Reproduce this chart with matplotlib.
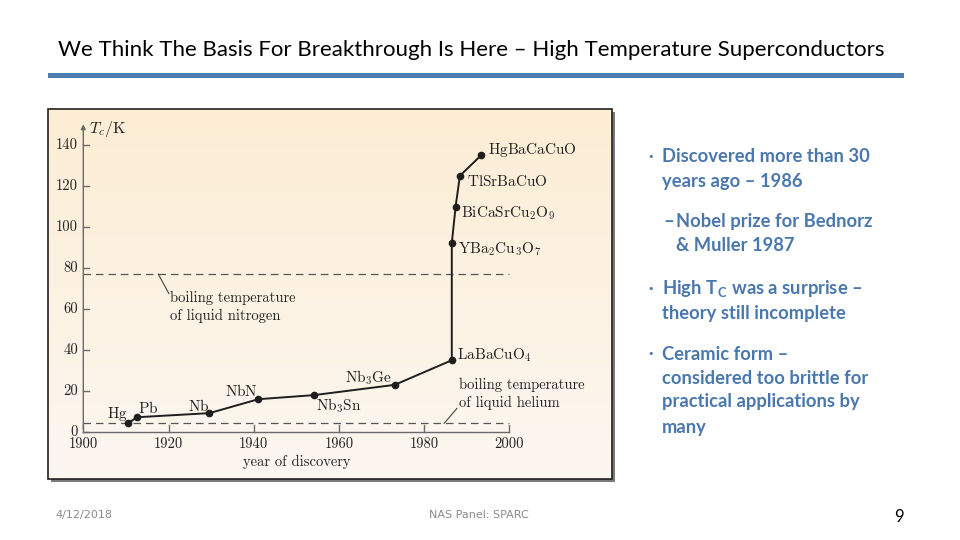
import matplotlib
matplotlib.use("Agg")
import matplotlib.pyplot as plt
import numpy as np
from matplotlib.patches import Rectangle
from matplotlib.colors import LinearSegmentedColormap

plt.rcParams['mathtext.fontset'] = 'cm'

# ---------------- data ----------------
materials = [r'$\mathrm{Hg}$', r'$\mathrm{Pb}$', r'$\mathrm{Nb}$', r'$\mathrm{NbN}$',
             r'$\mathrm{Nb_3Sn}$', r'$\mathrm{Nb_3Ge}$', r'$\mathrm{LaBaCuO_4}$',
             r'$\mathrm{YBa_2Cu_3O_7}$', r'$\mathrm{BiCaSrCu_2O_9}$',
             r'$\mathrm{TlSrBaCuO}$', r'$\mathrm{HgBaCaCuO}$']
years = [1910.5, 1912.6, 1929.6, 1941.1, 1954.2, 1973.1, 1986.5, 1986.5, 1987.4, 1988.4, 1993.4]
tc = [4.2, 7.2, 9.2, 16, 18, 23, 35, 92, 110, 125, 135]
nitrogen_bp = 77
helium_bp = 4.2
x_ticks = [1900, 1920, 1940, 1960, 1980, 2000]
y_ticks = [0, 20, 40, 60, 80, 100, 120, 140]

title = "We Think The Basis For Breakthrough Is Here \u2013 High Temperature Superconductors"
bullets = [
    ("\u2022", ["Discovered more than 30", "years ago \u2013 1986"]),
    ("\u2013", ["Nobel prize for Bednorz", "& Muller 1987"]),
    ("\u2022", ["High T$_\\mathregular{C}$ was a surprise \u2013", "theory still incomplete"]),
    ("\u2022", ["Ceramic form \u2013", "considered too brittle for", "practical applications by", "many"]),
]
footer_date = "4/12/2018"
footer_mid = "NAS Panel: SPARC"
page_no = "9"

# label offsets in pixels (presentation)
lab_off = [(-11, 9, 'center'), (11, 9, 'center'), (-11, 7, 'center'), (-17, 8, 'center'),
           (25, -11, 'center'), (-26, 7, 'center'), (5, 5, 'left'), (6, -6, 'left'),
           (5, -7, 'left'), (7, -6, 'left'), (7, 5, 'left')]

W, H = 960, 540
fig = plt.figure(figsize=(9.6, 5.4), dpi=100)
fig.patch.set_facecolor('white')

def fx(x): return x / W
def fy(y): return 1 - y / H

# title + rule
fig.text(fx(471), fy(50), title, ha='center', va='center', fontsize=16.0,
         family='Lato', color='black')
fig.add_artist(Rectangle((fx(48), fy(78)), fx(904) - fx(48), 5 / H,
                         transform=fig.transFigure, color='#4F7DB3', lw=0))

# panel
px0, px1, py0, py1 = 48, 612, 109, 479
fig.add_artist(Rectangle((fx(px0 + 3), fy(py1 + 3)), fx(px1) - fx(px0), (py1 - py0) / H,
                         transform=fig.transFigure, color='#7a7a7a', lw=0, zorder=0.5))
ax = fig.add_axes([fx(px0), fy(py1), fx(px1) - fx(px0), (py1 - py0) / H])
ax.set_zorder(1)
x0px, x1px = 83.3, 509.3
ppy = (x1px - x0px) / 100.0
y0px, ppk = 432.0, 2.05
ax.set_xlim(1900 + (px0 - x0px) / ppy, 1900 + (px1 - x0px) / ppy)
ax.set_ylim((y0px - py1) / ppk, (y0px - py0) / ppk)
ax.axis('off')
grad = np.linspace(0, 1, 256).reshape(-1, 1)
cmap = LinearSegmentedColormap.from_list('bg', ['#FCEDD4', '#FDF7F1'])
xl, yl = ax.get_xlim(), ax.get_ylim()
ax.imshow(grad, extent=[xl[0], xl[1], yl[0], yl[1]], origin='upper', aspect='auto', cmap=cmap, zorder=0)
ax.set_xlim(xl); ax.set_ylim(yl)
fig.add_artist(Rectangle((fx(px0), fy(py1)), fx(px1) - fx(px0), (py1 - py0) / H,
                         transform=fig.transFigure, fill=False, ec='#222222', lw=1.2, zorder=3))

axcol = '#6a6a6a'
txtcol = '#222222'
ax.annotate('', xy=(1900, 151.5), xytext=(1900, 0),
            arrowprops=dict(arrowstyle='-|>', color=axcol, lw=1.0, mutation_scale=7))
ax.plot([1900, 2000], [0, 0], color=axcol, lw=1.0)
tk = 7 / ppk
for t in y_ticks:
    ax.plot([1900, 1900 + 6 / ppy], [t, t], color=axcol, lw=1.0)
    ax.text(1900 - 1.2, t, str(t), ha='right', va='center', fontsize=10.5, family='cmr10', color=txtcol)
for t in x_ticks:
    ax.plot([t, t], [0, tk], color=axcol, lw=1.0)
    ax.text(t, -6, str(t), ha='center', va='center', fontsize=10.5, family='cmr10', color=txtcol)
ax.text(1901.3, 148, r'$T_c/\mathrm{K}$', ha='left', va='center', fontsize=11.5, color=txtcol)
ax.text(1950, -14.6, 'year of discovery', ha='center', va='center', fontsize=10.5,
        family='cmr10', color=txtcol)

ax.plot([1900, 2000], [nitrogen_bp, nitrogen_bp], color='#555', lw=0.9, dashes=(6, 4))
ax.plot([1900, 2000], [helium_bp, helium_bp], color='#555', lw=0.9, dashes=(6, 4))
ax.plot([1917.6, 1920.1], [77, 67.5], color='#444', lw=0.8)
ax.text(1920.4, 65.4, 'boiling temperature', ha='left', va='center', fontsize=10.5, family='cmr10', color=txtcol)
ax.text(1920.4, 56.6, 'of liquid nitrogen', ha='left', va='center', fontsize=10.5, family='cmr10', color=txtcol)
ax.plot([1984.7, 1987.7], [4.2, 11.5], color='#444', lw=0.8)
ax.text(1988.3, 23.1, 'boiling temperature', ha='left', va='center', fontsize=10.5, family='cmr10', color=txtcol)
ax.text(1988.3, 14.3, 'of liquid helium', ha='left', va='center', fontsize=10.5, family='cmr10', color=txtcol)

ax.plot(years, tc, color='#1e1e1e', lw=1.4, marker='o', ms=4.5, zorder=4)
for name, x, y, (dx, dy, ha) in zip(materials, years, tc, lab_off):
    ax.annotate(name, (x, y), xytext=(dx, dy), textcoords='offset pixels',
                ha=ha, va='center', fontsize=11, color=txtcol)

# bullets
blue = '#4A78AE'
lines_y = [[157, 181], [222, 246], [289, 313], [354, 378, 402, 427]]
bfont = dict(family='Lato', weight='bold', fontsize=13.2, color=blue)
for (sym, lines), ys in zip(bullets, lines_y):
    if sym == "\u2022":
        fig.text(fx(651), fy(ys[0]), sym, ha='center', va='center', fontsize=8, color=blue)
        for ln, yy in zip(lines, ys):
            fig.text(fx(662), fy(yy), ln, ha='left', va='center', **bfont)
    else:
        fig.text(fx(674), fy(ys[0]), sym, ha='right', va='center', **bfont)
        for ln, yy in zip(lines, ys):
            fig.text(fx(676), fy(yy), ln, ha='left', va='center', **bfont)

# footer
fig.text(fx(55), fy(515), footer_date, ha='left', va='center', fontsize=8, color='#8a8a8a', family='DejaVu Sans')
fig.text(fx(479), fy(515), footer_mid, ha='center', va='center', fontsize=8, color='#8a8a8a', family='DejaVu Sans')
fig.text(fx(899), fy(517), page_no, ha='center', va='center', fontsize=12, color='black', family='Lato')

fig.savefig('out.png', dpi=100)
